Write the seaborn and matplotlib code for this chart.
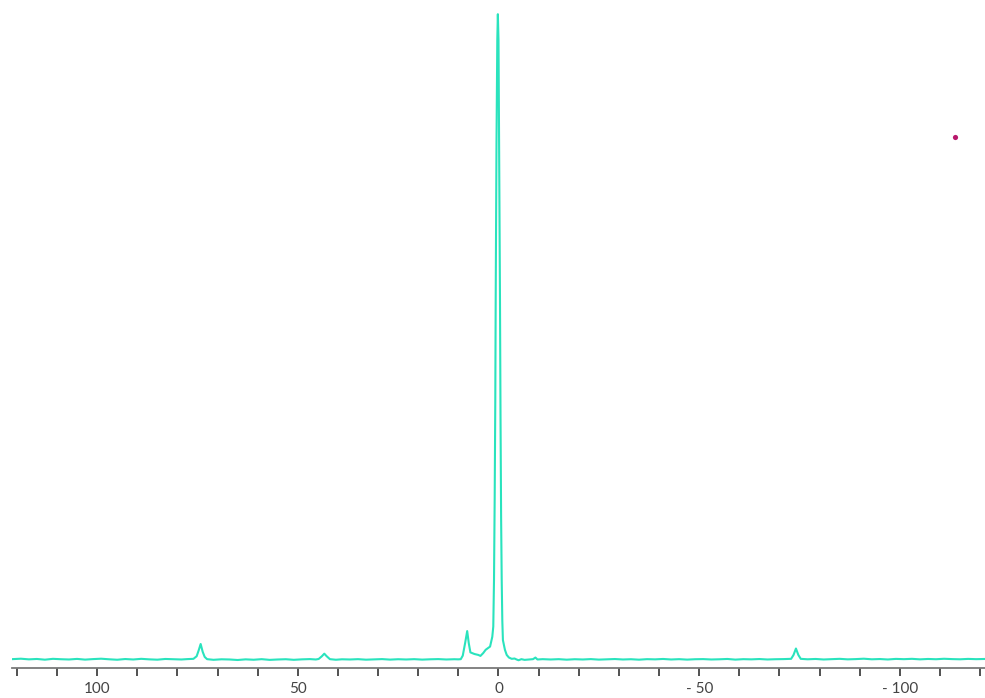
import matplotlib
matplotlib.use("Agg")
import matplotlib.pyplot as plt
from matplotlib.ticker import MultipleLocator
import seaborn as sns
import pandas as pd

# ---- data (ppm, relative intensity) ----
left_baseline_ppm = [121.2, 119, 117, 115, 113, 111, 109, 107, 105, 103, 101, 99, 97, 95, 93, 91,
                     89, 87, 85, 83, 81, 79, 77.5]
left_baseline_int = [0.05, 0.12, 0.02, 0.08, -0.03, 0.1, 0.04, 0.0, 0.09, -0.02, 0.06, 0.12, 0.03,
                     -0.04, 0.07, 0.0, 0.1, 0.02, -0.03, 0.08, 0.04, 0.0, 0.06]

peak74_ppm = [76.0, 75.2, 74.7, 74.2, 73.7, 73.2, 72.6]
peak74_int = [0.1, 0.5, 1.4, 2.4, 1.2, 0.4, 0.05]

mid_baseline_ppm = [71, 69, 67, 65, 63, 61, 59, 57, 55, 53, 51, 49, 47, 45.5]
mid_baseline_int = [-0.05, 0.03, 0.0, -0.08, 0.02, -0.04, 0.05, -0.06, 0.0, 0.04, -0.05, 0.02, 0.06, 0.0]

peak43_ppm = [44.8, 44.0, 43.4, 42.8, 42.0]
peak43_int = [0.08, 0.5, 0.9, 0.5, 0.05]

inner_baseline_ppm = [40.5, 39, 37, 35, 33, 31, 29, 27, 25, 23, 21, 19, 17, 15, 13, 11, 10]
inner_baseline_int = [-0.04, 0.03, 0.0, 0.05, -0.03, 0.02, 0.06, -0.02, 0.04, 0.0, 0.05, -0.02,
                      0.03, 0.06, 0.0, 0.04, 0.02]

center_ppm = [9.4, 8.9, 8.3, 7.8, 7.4, 7.0, 6.0, 5.0, 4.5, 3.8, 3.2, 2.1, 1.55, 1.3, 1.12, 0.95,
              0.8, 0.7, 0.5, 0.3, 0.16, 0.0, -0.15, -0.37, -0.5, -0.65, -0.8, -0.95, -1.1, -1.6,
              -2.05, -2.6, -3.3, -4.0, -4.5, -5.0, -5.7, -6.5, -7.5, -8.6, -9.2, -9.7, -11.0]
center_int = [0.05, 0.6, 2.6, 4.4, 2.5, 1.1, 0.85, 0.7, 0.55, 1.0, 1.5, 2.0, 3.5, 5.1, 12.3, 25,
              40, 55.7, 80, 96, 100, 96, 80, 55.7, 38, 22, 12.3, 6.0, 3.0, 1.5,
              0.7, 0.3, 0.1, 0.15, 0.0, -0.12, 0.05, -0.06, 0.0, 0.05, 0.3, 0.0, 0.05]

right_baseline_ppm = [-13, -15, -17, -19, -21, -23, -25, -27, -29, -31, -33, -35, -37, -39, -41,
                      -43, -45, -47, -49, -51, -53, -55, -57, -59, -61, -63, -65, -67, -69, -71, -72.9]
right_baseline_int = [0.0, 0.05, -0.03, 0.04, 0.0, 0.06, -0.02, 0.03, 0.07, 0.0, 0.04, -0.03, 0.05,
                      0.02, 0.08, 0.0, 0.05, -0.02, 0.04, 0.06, 0.0, 0.03, 0.08, -0.02, 0.05, 0.02,
                      0.07, 0.0, 0.04, 0.06, 0.1]

peakm74_ppm = [-73.5, -74.1, -74.7, -75.3]
peakm74_int = [0.7, 1.7, 0.7, 0.1]

far_right_ppm = [-77, -79, -81, -83, -85, -87, -89, -91, -93, -95, -97, -99, -101, -103, -105,
                 -107, -109, -111, -113, -115, -117, -119, -121.2]
far_right_int = [0.03, 0.08, 0.0, 0.05, 0.1, 0.02, 0.06, 0.12, 0.03, 0.07, 0.0, 0.09, 0.05, 0.1,
                 0.02, 0.08, 0.04, 0.11, 0.06, 0.03, 0.09, 0.05, 0.08]

marker_ppm = [-113.8]
marker_int = [80.9]

tick_values = [100, 50, 0, -50, -100]
tick_labels = ["100", "50", "0", "- 50", "- 100"]

ppm = (left_baseline_ppm + peak74_ppm + mid_baseline_ppm + peak43_ppm + inner_baseline_ppm
       + center_ppm + right_baseline_ppm + peakm74_ppm + far_right_ppm)
intensity = (left_baseline_int + peak74_int + mid_baseline_int + peak43_int + inner_baseline_int
             + center_int + right_baseline_int + peakm74_int + far_right_int)
df = pd.DataFrame({"ppm": ppm, "intensity": intensity})

sns.set_style("white")
plt.rcParams["font.family"] = ["Lato", "DejaVu Sans"]

fig = plt.figure(figsize=(9.85, 6.98), dpi=100)
ax = fig.add_axes([12 / 985, 30 / 698, 973 / 985, 668 / 698])

sns.lineplot(data=df, x="ppm", y="intensity", estimator=None, sort=True,
             color="#2ae3bd", linewidth=1.5, ax=ax)
sns.scatterplot(x=marker_ppm, y=marker_int, color="#b8186c", s=14, linewidth=0, ax=ax)

ax.set_xlim(121.2, -121.2)
ax.set_ylim(-1.32, 102.2)

for s in ["top", "left", "right"]:
    ax.spines[s].set_visible(False)
ax.spines["bottom"].set_color("#7a7a7a")
ax.spines["bottom"].set_linewidth(1.3)

ax.set_yticks([])
ax.set_xticks(tick_values)
ax.set_xticklabels(tick_labels)
ax.xaxis.set_minor_locator(MultipleLocator(10))
ax.tick_params(axis="x", which="both", direction="out", length=6, width=1.2,
               color="#333333", labelsize=11, labelcolor="#444444", pad=4, bottom=True)
ax.set_ylabel("")
ax.set_xlabel("ppm", fontsize=11, color="#444444", labelpad=1)

fig.savefig("out.png", dpi=100)
